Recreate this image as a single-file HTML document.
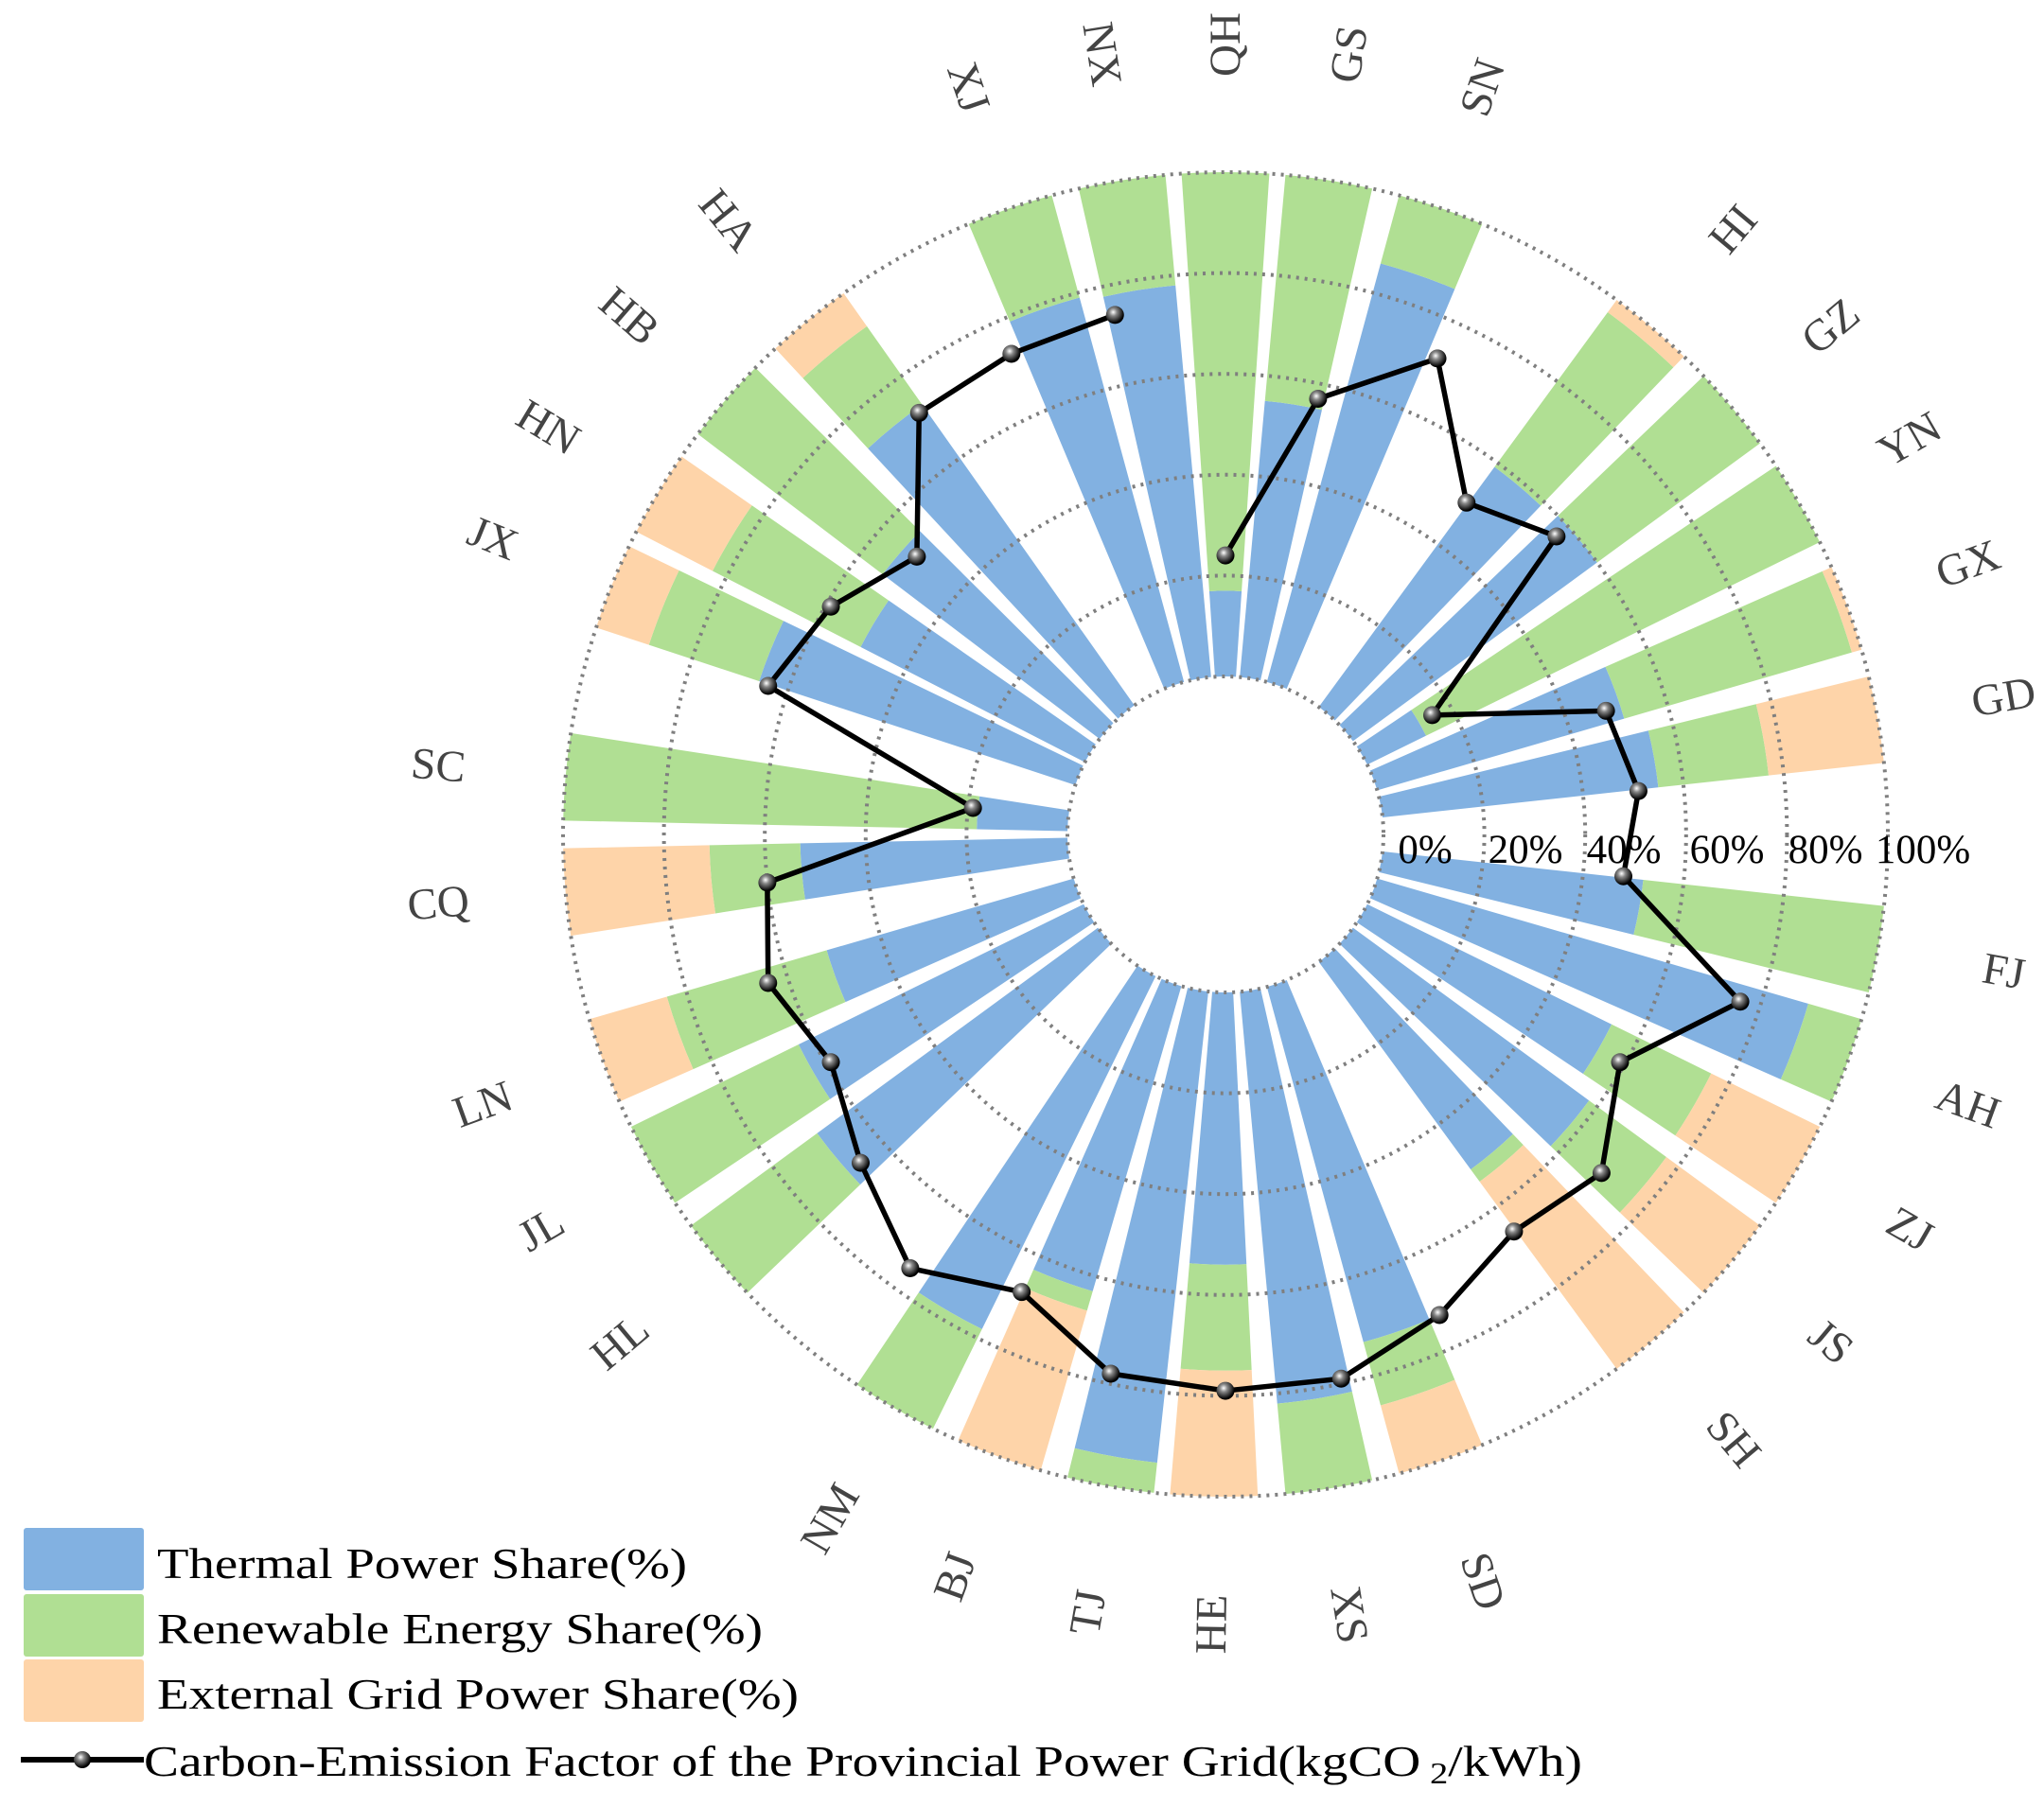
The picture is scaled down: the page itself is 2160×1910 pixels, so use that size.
<!DOCTYPE html>
<html><head><meta charset="utf-8"><style>
html,body{margin:0;padding:0;background:#fff;}
svg{display:block;}
</style></head><body>
<svg id="chart" width="2160" height="1910" viewBox="0 0 2160 1910" xmlns="http://www.w3.org/2000/svg">
<defs>
<radialGradient id="ball" cx="0.4" cy="0.35" r="0.6">
<stop offset="0" stop-color="#ffffff"/><stop offset="0.35" stop-color="#888"/><stop offset="1" stop-color="#000"/>
</radialGradient>
</defs>
<g id="bars"></g>
<g id="grid"></g>
<g id="line"></g>
<g id="labels"></g>
<g id="axis"></g>
<g font-family="Liberation Serif, serif" font-size="46" fill="#000">
<rect x="25" y="1615" width="127" height="66" rx="3" fill="#82b1e1"/>
<text x="166" y="1668" textLength="560" lengthAdjust="spacingAndGlyphs">Thermal Power Share(%)</text>
<rect x="25" y="1685" width="127" height="66" rx="3" fill="#b0df93"/>
<text x="166" y="1737" textLength="640" lengthAdjust="spacingAndGlyphs">Renewable Energy Share(%)</text>
<rect x="25" y="1754" width="127" height="66" rx="3" fill="#fed4a9"/>
<text x="166" y="1806" textLength="678" lengthAdjust="spacingAndGlyphs">External Grid Power Share(%)</text>
<line x1="22" y1="1860" x2="152" y2="1860" stroke="#000" stroke-width="6"/>
<circle cx="87" cy="1860" r="9" fill="url(#ball)"/>
<text x="152" y="1877" textLength="1520" lengthAdjust="spacingAndGlyphs">Carbon-Emission Factor of the Provincial Power Grid(kgCO<tspan font-size="32" dy="8"> 2</tspan><tspan dy="-8">/kWh)</tspan></text>
</g>
</svg>
<script>
const categories = ["QH","GS","SN","HI","GZ","YN","GX","GD","FJ","AH","ZJ","JS","SH","SD","XS","HE","TJ","BJ","NM","HL","JL","LN","CQ","SC","JX","HN","HB","HA","XJ","NX"];
const thermal   = [17,55,86,59,60,13,51,55,52,89,54,58,51,73,82,54,94,63,78,69,63,51,53,18,66,50,54,73,79,78];
const renewable = [83,45,14,38,40,87,47,22,48,11,22,19,3,13,18,21,6,4,22,31,37,33,18,82,23,33,46,19,21,22];
const external  = [0,0,0,3,0,0,2,23,0,0,24,23,46,14,0,25,0,33,0,0,0,16,29,0,11,17,0,8,0,0];
const carbon    = [0.24,0.57,0.72,0.50,0.57,0.16,0.48,0.51,0.48,0.76,0.59,0.69,0.66,0.73,0.79,0.79,0.78,0.68,0.75,0.66,0.59,0.64,0.60,0.19,0.64,0.59,0.51,0.72,0.73,0.74];
const tickLabels = ["0%","20%","40%","60%","80%","100%"];
const tickValues = [0,20,40,60,80,100];
// layout: angular slot (degrees clockwise from top) for each bar
const catAngle = [0,9,19,40,50,60,70,80,100,110,120,130,140,161,171,181,190,200,210,230,240,250,265,275,292,301,311,321,341,351];

const NS="http://www.w3.org/2000/svg";
const cx=1295, cy=882, r0=167, r1=700, halfW=3.8;
const rScale=v=>r0+(r1-r0)*v/100;
const pt=(deg,r)=>{const a=deg*Math.PI/180;return [cx+r*Math.sin(a), cy-r*Math.cos(a)];};
function mk(tag,attrs,parent){const e=document.createElementNS(NS,tag);for(const k in attrs)e.setAttribute(k,attrs[k]);parent.appendChild(e);return e;}
function sector(a,ra,rb){
  const a1=a-halfW,a2=a+halfW;
  const p1=pt(a1,ra),p2=pt(a1,rb),p3=pt(a2,rb),p4=pt(a2,ra);
  return `M${p1}L${p2}A${rb},${rb} 0 0 1 ${p3}L${p4}A${ra},${ra} 0 0 0 ${p1}Z`;
}
const gBars=document.getElementById('bars');
const series=[[thermal,'#82b1e1','thermal'],[renewable,'#b0df93','renewable'],[external,'#fed4a9','external']];
categories.forEach((c,i)=>{
  let acc=0;
  series.forEach(([arr,col,nm])=>{
    const v=arr[i]; if(v<=0) return;
    const p=mk('path',{d:sector(catAngle[i],rScale(acc),rScale(Math.min(100,acc+v))),fill:col},gBars);
    
    
    acc+=v;
  });
});
const gGrid=document.getElementById('grid');
tickValues.forEach(t=>{
  const ci=mk('circle',{cx:cx,cy:cy,r:rScale(t),fill:'none',stroke:'#7f7f7f','stroke-width':4,'stroke-dasharray':'3 6'},gGrid);
  
  
});
const gLine=document.getElementById('line');
const step=360/categories.length;
const pts=carbon.map((v,i)=>pt(i*step,rScale(v*100)));
const pl=mk('polyline',{points:pts.map(p=>p.join(',')).join(' '),fill:'none',stroke:'#000','stroke-width':5.5,'stroke-linejoin':'round'},gLine);


pts.forEach((p,i)=>{
  const m=mk('circle',{cx:p[0],cy:p[1],r:9.5,fill:'url(#ball)'},gLine);
  
  
});
const gLab=document.getElementById('labels');
categories.forEach((c,i)=>{
  const a=catAngle[i];const p=pt(a,835);
  const rot=a<=180? a-90 : a-270;
  const t=mk('text',{x:p[0],y:p[1],transform:`rotate(${rot} ${p[0]} ${p[1]})`,'text-anchor':'middle','dominant-baseline':'central','font-family':'Liberation Serif, serif','font-size':47,fill:'#444'},gLab);
  t.textContent=c;
  
  
});
const gAx=document.getElementById('axis');
const axisX=[1506,1612,1716,1825,1929,2032];
tickLabels.forEach((s,i)=>{
  const t=mk('text',{x:axisX[i],y:912,'text-anchor':'middle','font-family':'Liberation Serif, serif','font-size':43,fill:'#000'},gAx);
  t.textContent=s;
  
  
});
</script>
</body></html>
